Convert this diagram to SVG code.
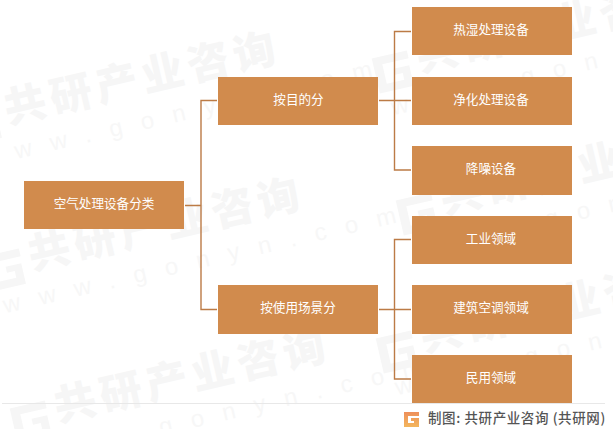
<svg xmlns="http://www.w3.org/2000/svg" xmlns:xlink="http://www.w3.org/1999/xlink" width="613" height="429" viewBox="0 0 613 429">
<style>
.box{fill:#d18b4d}
.lbl{font-family:"Noto Sans CJK SC","Liberation Sans",sans-serif;font-size:12.6px;fill:#fff;text-anchor:middle;dominant-baseline:central}
.wm{font-family:"Noto Sans CJK SC","Liberation Sans",sans-serif;font-weight:900;font-size:42px;fill:#f6f6f6;letter-spacing:5px}
.wu{font-family:"Liberation Sans",sans-serif;font-size:24px;fill:#f7f7f7;letter-spacing:19px}
.conn{fill:none;stroke:#bc7b46;stroke-width:1.4}
</style>
<defs>
<linearGradient id="lg" x1="0" y1="0" x2="0" y2="1"><stop offset="0" stop-color="#ee8f5a"/><stop offset="1" stop-color="#f3b65c"/></linearGradient>
<g id="mark">
<path d="M-44 -24h36v8h-27v20h18v-7h-8v-6h16v21h-35z" fill="#f6f6f6"/>
<text class="wm" x="0" y="0">共研产业咨询</text>
<text class="wu" x="-36" y="36">www.gonyn.com</text>
</g>
</defs>
<rect width="613" height="429" fill="#fff"/>
<g id="watermarks">
<use xlink:href="#mark" transform="translate(8 124) rotate(-13)"/>
<use xlink:href="#mark" transform="translate(420 72) rotate(-13)"/>
<use xlink:href="#mark" transform="translate(32 270) rotate(-13)"/>
<use xlink:href="#mark" transform="translate(444 214) rotate(-13)"/>
<use xlink:href="#mark" transform="translate(58 422) rotate(-13)"/>
<use xlink:href="#mark" transform="translate(424 352) rotate(-13)"/>
</g>
<line x1="2" y1="403.5" x2="605" y2="403.5" stroke="#e8e8e8" stroke-width="1"/>
<g id="connectors">
<path class="conn" d="M185 205.500H201M217 100.500H201V309.500H217"/>
<path class="conn" d="M379 100.500H411M411 31.500H394.500V170H411"/>
<path class="conn" d="M379 309.500H411M411 239.500H394.500V379H411"/>
</g>
<g id="root"><rect class="box" x="24" y="181" width="160" height="48"/><text class="lbl" x="104" y="202">空气处理设备分类</text></g>
<g id="mid1"><rect class="box" x="218" y="77" width="160" height="48"/><text class="lbl" x="298.500" y="98">按目的分</text></g>
<g id="mid2"><rect class="box" x="218" y="285" width="160" height="49"/><text class="lbl" x="298" y="306">按使用场景分</text></g>
<g id="leaf1"><rect class="box" x="412" y="7" width="160" height="48"/><text class="lbl" x="491" y="28">热湿处理设备</text></g>
<g id="leaf2"><rect class="box" x="412" y="77" width="160" height="48"/><text class="lbl" x="491" y="98">净化处理设备</text></g>
<g id="leaf3"><rect class="box" x="412" y="146" width="160" height="49"/><text class="lbl" x="491" y="167">降噪设备</text></g>
<g id="leaf4"><rect class="box" x="412" y="216" width="160" height="48"/><text class="lbl" x="491" y="237">工业领域</text></g>
<g id="leaf5"><rect class="box" x="412" y="285" width="160" height="49"/><text class="lbl" x="491" y="306">建筑空调领域</text></g>
<g id="leaf6"><rect class="box" x="412" y="355" width="160" height="48"/><text class="lbl" x="491" y="376">民用领域</text></g>
<g id="footer">
<path d="M404 412h15v4h-11v7h6v-2h-3v-3h8v9h-15z" fill="url(#lg)"/>
<text x="428" y="423" font-family="'Noto Sans CJK SC','Liberation Sans',sans-serif" font-size="13.500" font-weight="500" fill="#555" letter-spacing=".6">制图: 共研产业咨询 (共研网)</text>
</g>
</svg>
